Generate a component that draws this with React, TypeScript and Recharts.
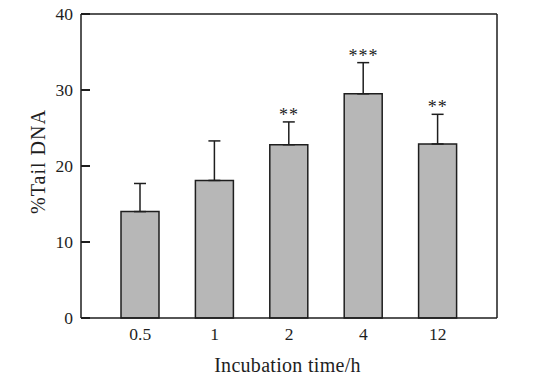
import { ComposedChart, Bar, Line, XAxis, YAxis, ErrorBar, LabelList, Label, ReferenceLine } from 'recharts'

const categories = ['0.5', '1', '2', '4', '12']
const tailDNA = [14.0, 18.1, 22.8, 29.5, 22.9]
const sdUp = [3.7, 5.2, 3.0, 4.1, 3.9]
const stars = ['', '', '**', '***', '**']
const yTicks = [0, 10, 20, 30, 40]

const data = categories.map((c, i) => ({
  time: c,
  value: tailDNA[i],
  err: [0, sdUp[i]],
  top: tailDNA[i] + sdUp[i],
  sig: stars[i],
}))

const FONT = '"Liberation Serif", "Times New Roman", serif'
const INK = '#1e1e1e'
const GAP = 8
const TICK_LEN = 9

function YTitle(props: any) {
  const { x, y, height } = props.viewBox
  const cx = x + 45
  const cy = y + height / 2 - 4.5
  return (
    <text x={cx} y={cy} transform={`rotate(-90 ${cx} ${cy})`} textAnchor="middle"
      fontFamily={FONT} fontSize={20} letterSpacing={1} fill={INK}>
      %Tail DNA
    </text>
  )
}

function XTitle(props: any) {
  const { x, y, width } = props.viewBox
  return (
    <text x={x + width / 2 - 1.5} y={y + 54} textAnchor="middle"
      fontFamily={FONT} fontSize={20} letterSpacing={0.3} fill={INK}>
      Incubation time/h
    </text>
  )
}

// tick label, plus a mark pointing inward from the axis line
function YTick(props: any) {
  const { x, y, payload } = props
  return (
    <g>
      <text x={x} y={y} dy="0.355em" textAnchor="end" fontFamily={FONT} fontSize={17.5} fill={INK}>
        {payload.value}
      </text>
      <path d={`M${x + GAP},${y}h${TICK_LEN}`} stroke={INK} strokeWidth={2} fill="none" />
    </g>
  )
}

// same inward mark, drawn from the plot's left edge
function InnerTick(props: any) {
  const x1 = Math.min(props.x1, props.x2)
  return <path d={`M${x1},${props.y1}h${TICK_LEN}`} stroke={INK} strokeWidth={2} fill="none" />
}

function Stars(props: any) {
  if (!props.value) return null
  return (
    <text x={props.x} y={props.y - 1} textAnchor="middle"
      fontFamily={FONT} fontSize={18} letterSpacing={1} fill={INK}>
      {props.value}
    </text>
  )
}

export default function App() {
  return (
    <div style={{ position: 'absolute', left: 0, top: 0, background: '#fff' }}>
      <ComposedChart width={540} height={380} data={data}
        margin={{ top: 13, right: 42, bottom: 0, left: 0 }}>
        <XAxis dataKey="time" height={62} tickLine={false} tickSize={10} tickMargin={0}
          padding={{ left: 22, right: 22 }} tick={{ fontFamily: FONT, fontSize: 17.5, fill: INK }}
          axisLine={{ stroke: INK, strokeWidth: 1.5 }}>
          <Label content={XTitle} />
        </XAxis>
        <XAxis xAxisId="top" dataKey="time" orientation="top" height={1}
          tick={false} tickLine={false} axisLine={{ stroke: INK, strokeWidth: 1.5 }} />
        <YAxis domain={[0, 40]} ticks={yTicks} width={81} tickSize={GAP} tickMargin={0}
          tick={YTick} tickLine={false} axisLine={{ stroke: INK, strokeWidth: 1.5 }}>
          <Label content={YTitle} />
        </YAxis>
        <YAxis yAxisId="right" orientation="right" domain={[0, 40]} width={1}
          tick={false} tickLine={false} axisLine={{ stroke: INK, strokeWidth: 1.5 }} />
        {yTicks.slice(1, -1).map((v) => (
          <ReferenceLine key={v} y={v} stroke={INK} shape={InnerTick} />
        ))}
        <Bar dataKey="value" barSize={38} fill="#b7b7b7" stroke={INK} strokeWidth={1.5}
          isAnimationActive={false}>
          <ErrorBar dataKey="err" direction="y" width={6} stroke={INK} strokeWidth={1.5} />
        </Bar>
        <Line dataKey="top" stroke="none" dot={false} activeDot={false} isAnimationActive={false}>
          <LabelList dataKey="sig" content={Stars} />
        </Line>
      </ComposedChart>
    </div>
  )
}
